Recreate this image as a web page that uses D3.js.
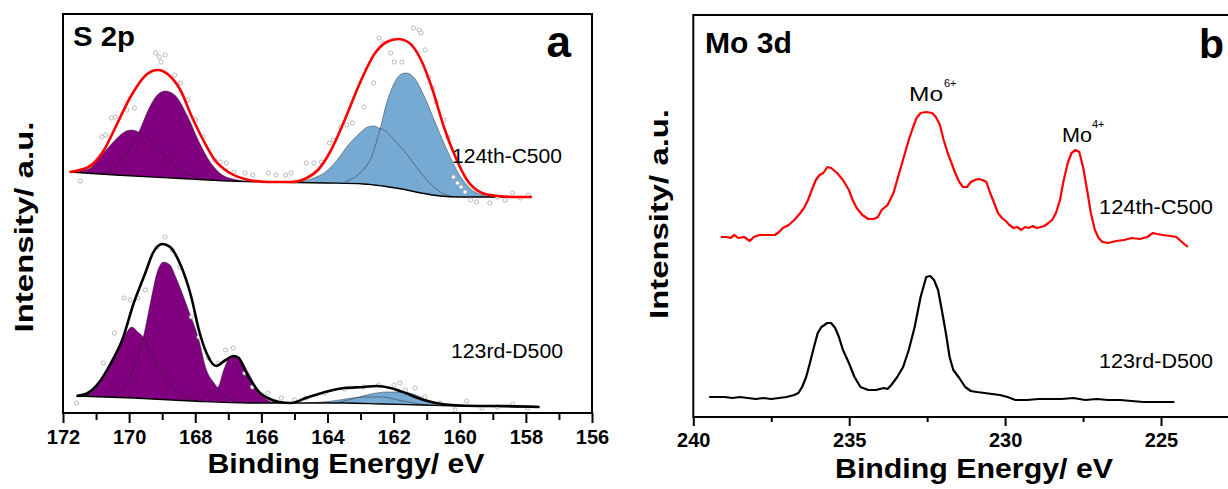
<!DOCTYPE html>
<html><head><meta charset="utf-8">
<script src="https://cdn.jsdelivr.net/npm/d3@7"></script>
<style>
html,body{margin:0;padding:0;background:#fff;}
svg{display:block;}
text{font-family:"Liberation Sans",Arial,Helvetica,sans-serif;fill:#000;}
</style></head><body>
<svg id="chart" width="1228" height="489"></svg>
<script>
// ---------- Panel a: S 2p (binding energy eV, intensity a.u.) ----------
const aTicksMajor = [172,170,168,166,164,162,160,158,156];
const aTicksMinor = [171,169,167,165,163,161,159,157];

// 124th-C500
const aTopEnvelope = [[171.80,241],[171.23,246],[170.76,263],[170.41,286],[169.96,316],[169.49,338],[169.14,343],[168.80,338],[168.45,323],[168.10,296],[167.76,273],[167.41,253],[166.95,240],[166.37,233],[165.79,231],[165.10,231],[164.63,235],[164.29,243],[163.94,260],[163.48,293],[163.02,330],[162.56,360],[162.21,371],[161.86,374],[161.52,370],[161.17,353],[160.82,323],[160.48,286],[160.13,256],[159.78,233],[159.32,220],[158.86,217],[158.28,216],[157.82,216]];
const aTopBaseline = [[171.80,241],[170.41,238],[168.68,235],[166.95,232],[165.79,231],[164.06,230],[162.90,229],[162.33,227],[161.75,224],[161.17,220],[160.59,217],[160.01,216],[157.82,216]];
const aTopS6a = [[171.75,241],[171.23,244],[170.88,256],[170.42,273],[170.19,280],[169.95,283],[169.78,282],[169.67,280],[169.26,270],[168.80,253],[168.34,241],[167.87,235],[167.41,233],[166.95,232]];
const aTopS6b = [[170.88,239],[170.53,243],[170.07,260],[169.72,280],[169.38,306],[169.15,318],[168.91,322],[168.62,318],[168.22,296],[167.87,270],[167.53,250],[167.18,238],[166.72,233],[166.26,231]];
const aTopS2a = [[164.87,231],[164.41,235],[164.06,241],[163.71,253],[163.37,268],[163.02,280],[162.79,286],[162.61,287],[162.44,285],[162.21,281],[161.98,273],[161.63,260],[161.29,245],[160.94,231],[160.59,221],[160.25,217]];
const aTopS2b = [[163.48,231],[163.02,240],[162.67,256],[162.44,280],[162.21,310],[161.98,330],[161.81,338],[161.63,340],[161.40,336],[161.05,315],[160.71,288],[160.36,261],[160.01,238],[159.67,224],[159.32,218],[158.97,216]];
const aTopRaw = [[171.48,232],[170.82,276],[170.71,278],[170.53,295],[170.42,296],[170.07,303],[169.84,305],[169.20,360],[169.09,356],[168.91,358],[169.03,351],[168.62,338],[168.45,330],[168.22,313],[167.99,293],[167.76,276],[167.41,253],[167.24,251],[167.06,250],[166.83,241],[166.49,240],[166.26,238],[165.79,240],[165.56,238],[165.27,238],[165.10,240],[164.64,250],[164.41,250],[164.18,251],[163.94,270],[163.83,273],[163.60,286],[163.42,288],[163.25,290],[162.90,306],[162.61,330],[162.44,375],[162.33,370],[162.09,360],[161.98,351],[161.75,351],[161.40,385],[161.23,383],[161.17,380],[161.05,363],[160.94,336],[160.82,325],[160.71,311],[160.48,293],[160.36,276],[160.19,236],[160.07,230],[159.96,226],[159.84,221],[159.67,213],[159.49,211],[159.09,210],[158.86,216],[158.63,213],[158.40,220],[158.17,215],[157.93,218]];

// 123rd-D500
const aBotEnvelope = [[171.59,17],[171.25,20],[170.90,31],[170.55,50],[170.21,73],[169.86,110],[169.51,140],[169.28,160],[168.99,169],[168.76,166],[168.47,150],[168.12,116],[167.89,83],[167.66,60],[167.37,47],[167.08,53],[166.85,57],[166.68,55],[166.50,43],[166.27,30],[166.04,20],[165.81,15],[165.46,11],[165.11,10],[164.65,15],[164.07,21],[163.49,25],[162.91,26],[162.51,27],[162.10,25],[161.64,20],[161.18,14],[160.72,10],[160.25,8],[159.44,7],[158.86,7],[157.59,6]];
const aBotBaseline = [[171.59,17],[169.86,15],[168.12,12],[166.39,10],[165.23,10],[163.49,10],[162.33,9],[161.18,8],[160.02,7],[157.59,6]];
const aBotS6a = [[171.54,16],[171.13,21],[170.78,36],[170.44,56],[170.09,80],[169.92,86],[169.74,81],[169.57,76],[169.28,56],[168.93,36],[168.59,23],[168.24,15],[167.89,12]];
const aBotS6b = [[170.55,16],[170.32,20],[169.97,36],[169.74,56],[169.57,76],[169.34,113],[169.16,140],[168.96,151],[168.76,148],[168.59,136],[168.24,106],[167.89,73],[167.66,43],[167.43,30],[167.20,20],[166.85,13],[166.50,10]];
const aBotS6c = [[167.78,13],[167.49,23],[167.31,26],[167.14,43],[166.97,55],[166.79,57],[166.62,53],[166.39,40],[166.16,26],[165.92,16],[165.69,11],[165.46,10]];
const aBotS2a = [[164.65,10],[163.84,12],[163.26,15],[162.80,16],[162.34,16],[161.87,13],[161.41,10],[160.95,8]];
const aBotS2b = [[163.72,10],[163.15,15],[162.68,19],[162.22,21],[161.87,21],[161.53,20],[161.18,16],[160.83,11],[160.37,8]];
const aBotRaw = [[171.59,10],[170.78,50],[170.44,80],[170.15,115],[169.97,113],[169.74,115],[169.51,123],[169.16,166],[168.91,176],[168.70,163],[168.47,146],[168.12,96],[167.89,76],[167.60,55],[167.31,50],[167.08,63],[166.85,65],[166.50,40],[166.27,26],[165.81,20],[165.40,15],[165.00,13],[164.65,15],[164.07,20],[163.49,24],[162.91,26],[162.45,28],[161.99,28],[161.81,30],[161.64,23],[161.35,25],[161.06,16],[160.60,10],[160.14,3],[159.79,12],[159.33,5],[158.86,6],[158.40,9],[157.94,5]];

// ---------- Panel b: Mo 3d ----------
const bAxisRight = 220;
const bTicksMajor = [240,235,230,225];
const bTicksMinor = [237.5,232.5,227.5];
const bTop = [[239.12,180],[238.93,180],[238.81,179],[238.68,182],[238.56,179],[238.37,180],[238.19,176],[238.06,180],[237.88,182],[237.63,182],[237.38,182],[237.25,185],[237.13,189],[236.94,192],[236.76,197],[236.57,204],[236.45,209],[236.32,217],[236.20,227],[236.07,237],[235.95,242],[235.83,244],[235.70,250],[235.58,249],[235.39,244],[235.20,237],[235.01,227],[234.89,217],[234.76,209],[234.58,202],[234.39,198],[234.21,198],[234.08,200],[233.96,207],[233.77,212],[233.58,224],[233.46,237],[233.34,250],[233.21,264],[233.09,277],[232.96,289],[232.84,299],[232.71,304],[232.53,305],[232.34,304],[232.22,300],[232.09,292],[231.97,277],[231.84,264],[231.72,254],[231.60,244],[231.47,235],[231.35,230],[231.22,230],[231.10,235],[230.97,237],[230.85,238],[230.72,237],[230.60,235],[230.48,224],[230.35,214],[230.23,204],[230.10,199],[229.98,196],[229.86,192],[229.73,189],[229.61,190],[229.48,187],[229.36,190],[229.24,189],[229.11,191],[228.99,189],[228.86,190],[228.74,191],[228.61,194],[228.49,197],[228.37,204],[228.24,217],[228.12,237],[227.99,254],[227.87,264],[227.74,267],[227.62,265],[227.50,250],[227.37,227],[227.25,204],[227.12,187],[227.00,179],[226.88,175],[226.69,174],[226.44,176],[226.19,177],[225.94,179],[225.69,178],[225.44,180],[225.26,184],[225.13,183],[224.95,182],[224.70,181],[224.51,180],[224.33,175],[224.14,170]];
const bBot = [[239.49,20],[239.24,20],[238.99,20],[238.75,19],[238.50,20],[238.25,19],[238.00,18],[237.75,19],[237.50,18],[237.25,19],[237.01,20],[236.76,22],[236.63,24],[236.51,30],[236.38,40],[236.26,54],[236.13,70],[236.01,84],[235.89,90],[235.70,94],[235.58,94],[235.45,89],[235.33,80],[235.20,67],[235.01,54],[234.83,40],[234.64,30],[234.39,27],[234.14,27],[233.89,29],[233.77,28],[233.65,32],[233.46,40],[233.27,50],[233.09,67],[232.90,90],[232.71,120],[232.53,140],[232.40,141],[232.28,137],[232.15,127],[232.03,107],[231.90,84],[231.78,60],[231.66,47],[231.47,39],[231.28,30],[231.10,26],[230.91,25],[230.66,24],[230.42,23],[230.17,22],[229.92,20],[229.67,17],[229.30,17],[228.92,18],[228.55,18],[228.18,18],[227.81,19],[227.43,17],[227.06,18],[226.69,17],[226.31,17],[225.94,16],[225.57,15],[225.19,15],[224.82,15],[224.57,15]];

// ---------- drawing ----------
const svg = d3.select("#chart");
const purple = "#800080", blue = "#76aad2";

const xa = d3.scaleLinear().domain([172,156]).range([63,592]);
const ya = d3.scaleLinear().domain([0,400]).range([413,13]);
const xb = d3.scaleLinear().domain([240,225]).range([693.3,1161]);
const yb = d3.scaleLinear().domain([0,400]).range([417,17]);

const gA = svg.append("g");
const gB = svg.append("g");

function drawComponents(g, x, y, base, comps) {
  const baseFn = d3.scaleLinear().domain(base.map(d=>d[0])).range(base.map(d=>d[1])).clamp(true);
  const area = d3.area().x(d=>x(d[0])).y0(d=>y(baseFn(d[0]))).y1(d=>y(d[1])).curve(d3.curveMonotoneX);
  const line = d3.line().x(d=>x(d[0])).y(d=>y(d[1])).curve(d3.curveMonotoneX);
  comps.forEach(c => g.append("path").attr("d", area(c.data)).attr("fill", c.color).attr("stroke","none"));
  comps.forEach(c => g.append("path").attr("d", line(c.data)).attr("fill","none").attr("stroke","#222").attr("stroke-width",0.6).attr("stroke-opacity",0.75));
}
function drawLine(g, x, y, data, color, w, curve) {
  g.append("path").attr("d", d3.line().x(d=>x(d[0])).y(d=>y(d[1])).curve(curve)(data))
    .attr("fill","none").attr("stroke",color).attr("stroke-width",w).attr("stroke-linejoin","round");
}
function drawRaw(g, x, y, data) {
  g.selectAll(null).data(data).enter().append("circle")
    .attr("cx", d=>x(d[0])).attr("cy", d=>y(d[1])).attr("r", 2.1)
    .attr("fill","#fff").attr("stroke","#a8a8a8").attr("stroke-width",0.8);
}

// Panel a spectra
drawComponents(gA, xa, ya, aTopBaseline, [
  {data:aTopS6a,color:purple},{data:aTopS6b,color:purple},
  {data:aTopS2a,color:blue},{data:aTopS2b,color:blue}]);
drawLine(gA, xa, ya, aTopBaseline, "#000", 1.3, d3.curveMonotoneX);
drawRaw(gA, xa, ya, aTopRaw);
drawLine(gA, xa, ya, aTopEnvelope, "#ff0000", 2.6, d3.curveMonotoneX);

drawComponents(gA, xa, ya, aBotBaseline, [
  {data:aBotS6a,color:purple},{data:aBotS6b,color:purple},{data:aBotS6c,color:purple},
  {data:aBotS2a,color:blue},{data:aBotS2b,color:blue}]);
drawLine(gA, xa, ya, aBotBaseline, "#000", 1.3, d3.curveMonotoneX);
drawRaw(gA, xa, ya, aBotRaw);
drawLine(gA, xa, ya, aBotEnvelope, "#000", 2.6, d3.curveMonotoneX);

// Panel b spectra
drawLine(gB, xb, yb, bTop, "#ff0000", 2.2, d3.curveLinear);
drawLine(gB, xb, yb, bBot, "#000", 2.2, d3.curveLinear);

// Frames
gA.append("rect").attr("x", xa(172)).attr("y", ya(400)+1).attr("width", xa(156)-xa(172)).attr("height", ya(0)-ya(400)-1)
  .attr("fill","none").attr("stroke","#000").attr("stroke-width",2);
gB.append("rect").attr("x", xb(240)).attr("y", yb(400)-2).attr("width", xb(bAxisRight)-xb(240)).attr("height", yb(0)-yb(400)+2)
  .attr("fill","none").attr("stroke","#000").attr("stroke-width",2);

// Axes
function axis(g, x, y0, major, minor, majLen, minLen, labelY) {
  const ga = g.append("g").attr("transform", `translate(0,${y0})`)
    .call(d3.axisBottom(x).tickValues(major).tickSize(majLen).tickFormat(d3.format("d")));
  ga.select(".domain").remove();
  ga.selectAll(".tick line").attr("stroke","#000").attr("stroke-width",2);
  ga.selectAll(".tick text").attr("y", labelY).attr("dy",0)
    .style("font-family",'"Liberation Sans",Arial,sans-serif').style("font-size","20px").style("font-weight","bold").attr("fill","#000");
  const gm = g.append("g").attr("transform", `translate(0,${y0})`)
    .call(d3.axisBottom(x).tickValues(minor).tickSize(minLen).tickFormat(""));
  gm.select(".domain").remove();
  gm.selectAll(".tick line").attr("stroke","#000").attr("stroke-width",2);
}
axis(gA, xa, ya(0), aTicksMajor, aTicksMinor, 10, 7, 31);
axis(gB, xb, yb(0), bTicksMajor, bTicksMinor, 9, 5, 30);

// Texts
function txt(g, s, x, y, size, weight, anchor, len) {
  const t = g.append("text").attr("x",x).attr("y",y).text(s)
    .style("font-size", size+"px").style("font-weight", weight).attr("text-anchor", anchor||"start");
  if (len) t.attr("textLength", len).attr("lengthAdjust","spacingAndGlyphs");
  return t;
}
// axis titles
txt(gA, "Binding Energy/ eV", 346, 473, 28, "bold", "middle", 277);
txt(gB, "Binding Energy/ eV", 974, 478, 28, "bold", "middle", 278);
gA.append("text").attr("transform","translate(32.5,227) rotate(-90)").attr("text-anchor","middle")
  .style("font-size","26px").style("font-weight","bold").attr("textLength",211).attr("lengthAdjust","spacingAndGlyphs").text("Intensity/ a.u.");
gB.append("text").attr("transform","translate(668,214) rotate(-90)").attr("text-anchor","middle")
  .style("font-size","26px").style("font-weight","bold").attr("textLength",210).attr("lengthAdjust","spacingAndGlyphs").text("Intensity/ a.u.");
// panel titles
txt(gA, "S 2p", 73, 46, 27, "bold", "start", 62);
txt(gA, "a", 571, 57, 44, "bold", "end");
txt(gB, "Mo 3d", 705, 53, 29, "bold", "start", 87);
txt(gB, "b", 1224, 58, 41, "bold", "end");
// sample labels
txt(gA, "124th-C500", 452, 163, 20, "normal", "start", 110);
txt(gA, "123rd-D500", 451, 358, 20, "normal", "start", 112);
txt(gB, "124th-C500", 1099, 214, 20, "normal", "start", 114);
txt(gB, "123rd-D500", 1099, 368, 20, "normal", "start", 114);
// Mo oxidation labels
txt(gB, "Mo", 909, 101, 20, "normal", "start", 34);
txt(gB, "6+", 944, 87, 11, "normal", "start");
txt(gB, "Mo", 1062, 142, 20, "normal", "start", 30);
txt(gB, "4+", 1092, 128, 11, "normal", "start");
</script></body></html>
